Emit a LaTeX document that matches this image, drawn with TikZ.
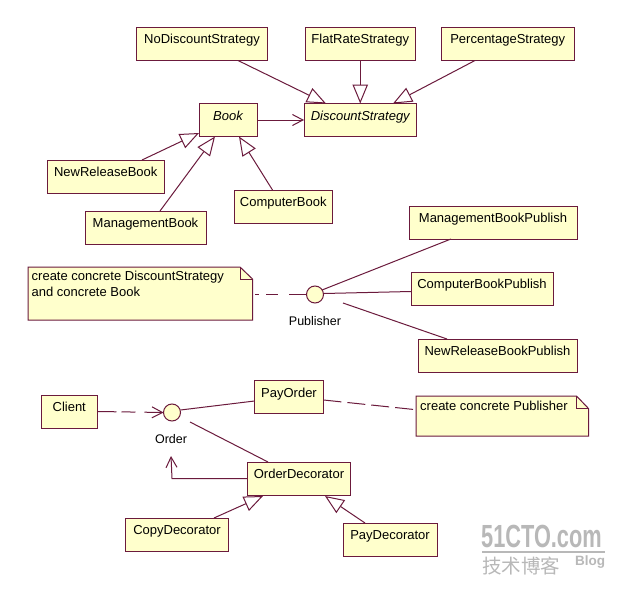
\documentclass[tikz,border=0pt]{standalone}
\usepackage{fontspec}
\usepackage{graphicx}
\setmainfont{Liberation Sans}
\newfontfamily\cjkfont{Noto Sans CJK SC}
\usetikzlibrary{arrows.meta,calc}
\definecolor{umlline}{HTML}{6B1A3C}
\definecolor{umlfill}{HTML}{FFFFCC}
\definecolor{wmgray}{HTML}{B8B8B8}
\tikzset{
  umlbox/.style={draw=umlline,fill=umlfill,line width=1pt,inner xsep=0pt,inner ysep=0pt,outer sep=0pt,
    font=\fontsize{13}{16}\selectfont,text=black,text height=16.7pt,text depth=16.3pt},
  topbox/.style={umlbox,text height=15.5pt,text depth=17.5pt},
  italicbox/.style={umlbox,font=\fontsize{13}{16}\selectfont\itshape},
  iface/.style={circle,draw=umlline,fill=umlfill,line width=1pt,minimum size=17pt,inner sep=0pt,outer sep=0pt},
  lbl/.style={font=\fontsize{12.5}{15}\selectfont,text=black,inner sep=0pt},
  notetext/.style={font=\fontsize{13}{16}\selectfont,text=black,align=left,inner sep=0pt,anchor=north west},
  notefill/.style={draw=umlline,fill=umlfill,line width=1pt,line join=miter},
  conn/.style={draw=umlline,line width=1pt},
  gen/.style={conn,-{Triangle[length=19pt,width=15.5pt,fill=white]}},
  nav/.style={conn,-{Straight Barb[length=10.5pt,width=11pt]}},
}
\newcommand{\umlclass}[6][umlbox]{%
  \node[#1,anchor=north west,minimum width=#5pt-#4pt] (#2) at (#4,#3) {#6};}
\begin{document}
\begin{tikzpicture}[x=1pt,y=-1pt]
\useasboundingbox[fill=white] (0,0) rectangle (619,589);
% classes: name, y-top, x-left, x-right, text
\umlclass[topbox]{nodis}{27.5}{136.5}{267.5}{NoDiscountStrategy}
\umlclass[topbox]{flat}{27.5}{305}{415.5}{FlatRateStrategy}
\umlclass[topbox]{perc}{27.5}{441}{574.5}{PercentageStrategy}
\umlclass[italicbox]{book}{103.5}{199}{257}{Book}
\umlclass[italicbox]{disc}{103.5}{304}{416.5}{DiscountStrategy}
\umlclass{newrel}{160}{47.5}{164}{NewReleaseBook}
\umlclass{mgmt}{211}{85}{206}{ManagementBook}
\umlclass{comp}{190}{234}{332.5}{ComputerBook}
\umlclass{mgmtpub}{206}{409}{577}{ManagementBookPublish}
\umlclass{comppub}{272}{411}{553}{ComputerBookPublish}
\umlclass{newpub}{339}{418}{577}{NewReleaseBookPublish}
\umlclass{client}{395}{41}{97.5}{Client}
\umlclass{payorder}{380.5}{254.5}{323.5}{PayOrder}
\umlclass{orderdec}{462}{247.5}{350.5}{OrderDecorator}
\umlclass{copydec}{518}{125.5}{228.5}{CopyDecorator}
\umlclass{paydec}{523}{343}{437}{PayDecorator}
% notes
\draw[notefill] (28,267) -- (240,267) -- (252.5,279) -- (252.5,320) -- (28,320) -- cycle;
\draw[conn] (240,267) -- (240,279) -- (252.5,279);
\node[notetext] (note1) at (31.5,271.3) {create concrete DiscountStrategy\\and concrete Book};
\coordinate (note1edge) at (255,294.5);
\draw[notefill] (416,396) -- (576.5,396) -- (588.5,408.5) -- (588.5,436) -- (416,436) -- cycle;
\draw[conn] (576.5,396) -- (576.5,408.5) -- (588.5,408.5);
\node[notetext] (note2) at (420,401.3) {create concrete Publisher};
\coordinate (note2edge) at (414,409.5);
% interfaces
\node[iface] (publisher) at (315,294.5) {};
\node[lbl] (publabel) at (315,321) {Publisher};
\node[iface] (order) at (172,412.5) {};
\node[lbl] (orderlabel) at (171,439) {Order};
% strategy and book
\draw[gen] ([xshift=101.5pt]nodis.south west) -- ([xshift=22pt]disc.north west);
\draw[gen] (flat.south -| disc.north) -- (disc.north);
\draw[gen] ([xshift=34pt]perc.south west) -- ([xshift=89pt]disc.north west);
\draw[nav] ([xshift=1pt]book.east) -- (disc.west);
\draw[gen] ([xshift=94.5pt]newrel.north west) -- ([yshift=3.5pt]book.south west);
\draw[gen] ([xshift=75pt]mgmt.north west) -- ([xshift=16pt]book.south west);
\draw[gen] ([xshift=38.5pt]comp.north west) -- ([xshift=40pt]book.south west);
% publisher
\draw[conn] ($(publisher)+(7,-4.5)$) -- ([xshift=42pt]mgmtpub.south west);
\draw[conn] ($(publisher)+(9,-1)$) -- ([yshift=-3pt]comppub.west);
\draw[conn] ($(publisher)+(28,8.5)$) -- ([xshift=29pt]newpub.north west);
\draw[conn,dash pattern=on 4pt off 7pt on 12pt off 11pt on 17pt off 0pt] (note1edge) -- (publisher.west);
% order
\draw[nav,dash pattern=on 19pt off 5pt on 14pt off 9pt on 18pt off 0pt] (client.east) -- (order.west);
\draw[conn] ($(order)+(8.5,-2.5)$) -- ([yshift=-4pt]payorder.west);
\draw[conn] ($(order)+(18,9.5)$) -- ([xshift=20.5pt]orderdec.north west);
\draw[nav] (orderdec.west) -- (order.center |- orderdec.west) -- ($(orderlabel)+(0,17)$);
\draw[conn,dash pattern=on 18pt off 6pt] ([yshift=-3pt]payorder.east) -- (note2edge);
\draw[gen] ([xshift=88.5pt]copydec.north west) -- ([xshift=15.5pt,yshift=-1pt]orderdec.south west);
\draw[gen] ([xshift=22pt]paydec.north west) -- ([xshift=77.5pt,yshift=-1pt]orderdec.south west);
% watermark
\node[anchor=west,inner sep=0pt,text=wmgray,font=\fontsize{32}{33}\selectfont\bfseries] (wm1) at (481,536) {\scalebox{0.68}[1]{51CTO.com}};
\draw[wmgray,line width=1.5pt] (482,552) -- (605,552);
\node[anchor=west,inner sep=0pt,text=wmgray,font=\fontsize{19.5}{20}\selectfont\cjkfont] (wm2) at (482,566) {技术博客};
\node[anchor=west,inner sep=0pt,text=wmgray,font=\fontsize{13.5}{14}\selectfont\bfseries] (wm3) at (575,562) {Blog};
\end{tikzpicture}
\end{document}
